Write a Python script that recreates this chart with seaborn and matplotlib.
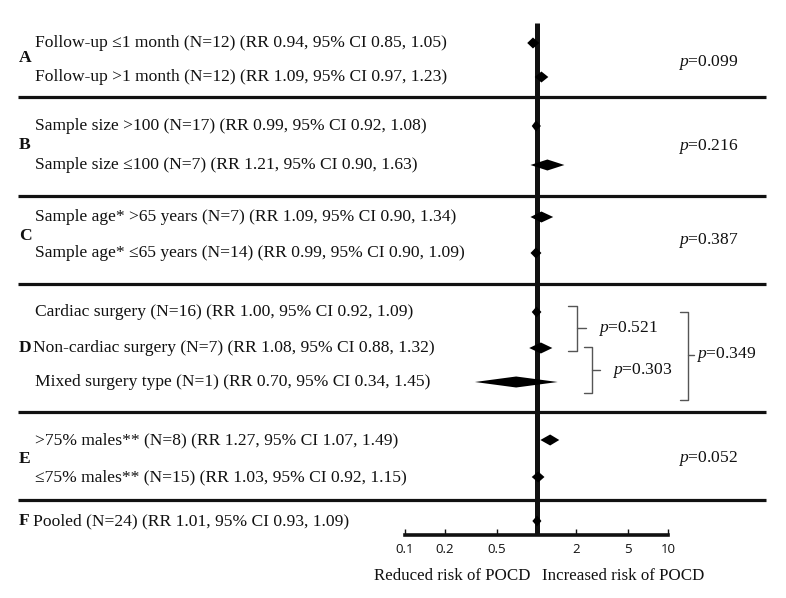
import matplotlib
matplotlib.use("Agg")
import matplotlib.pyplot as plt
import seaborn as sns
import pandas as pd
import numpy as np

# ---- data ----
groups = ["A", "A", "B", "B", "C", "C", "D", "D", "D", "E", "E", "F"]
subgroups = [
    "Follow-up \u22641 month", "Follow-up >1 month",
    "Sample size >100", "Sample size \u2264100",
    "Sample age* >65 years", "Sample age* \u226465 years",
    "Cardiac surgery", "Non-cardiac surgery", "Mixed surgery type",
    ">75% males**", "\u226475% males**",
    "Pooled",
]
n_studies = [12, 12, 17, 7, 7, 14, 16, 7, 1, 8, 15, 24]
rr = [0.94, 1.09, 0.99, 1.21, 1.09, 0.99, 1.00, 1.08, 0.70, 1.27, 1.03, 1.01]
ci_low = [0.85, 0.97, 0.92, 0.90, 0.90, 0.90, 0.92, 0.88, 0.34, 1.07, 0.92, 0.93]
ci_high = [1.05, 1.23, 1.08, 1.63, 1.34, 1.09, 1.09, 1.32, 1.45, 1.49, 1.15, 1.09]
group_letters = ["A", "B", "C", "D", "E", "F"]
group_p = ["0.099", "0.216", "0.387", None, "0.052", None]
d_pairs_p = ["0.521", "0.303", "0.349"]
tick_values = [0.1, 0.2, 0.5, 2, 5, 10]
tick_labels = ["0.1", "0.2", "0.5", "2", "5", "10"]

# ---- layout (pixel rows) ----
W, H = 786, 598
row_y = [43, 77, 126, 165, 217, 253, 312, 348, 382, 440, 477, 521]
sep_y = [97, 196, 284, 412, 500]
letter_y = [58, 145, 236, 348, 459, 521]
p_y = [62, 147, 240, None, 459, None]
axis_y = 535

df = pd.DataFrame({"group": groups, "sub": subgroups, "n": n_studies,
                   "rr": rr, "lo": ci_low, "hi": ci_high, "y": row_y})

sns.set_theme(style="white")
plt.rcParams["font.family"] = ["Liberation Serif", "DejaVu Serif"]
plt.rcParams["mathtext.fontset"] = "custom"
plt.rcParams["mathtext.rm"] = "Liberation Serif"
plt.rcParams["mathtext.it"] = "Liberation Serif:italic"

fig = plt.figure(figsize=(W / 100, H / 100), dpi=100)
fig.patch.set_facecolor("white")

# overlay in pixel coordinates for text, separators, brackets
axp = fig.add_axes([0, 0, 1, 1])
axp.set_xlim(0, W)
axp.set_ylim(H, 0)
axp.axis("off")

# forest axes with log scale
left_px, right_px = 405, 668
ax = fig.add_axes([left_px / W, (H - axis_y) / H, (right_px - left_px) / W, axis_y / H])
ax.patch.set_alpha(0)
ax.set_xscale("log")
ax.set_xlim(0.1, 10)
ax.set_ylim(axis_y, 0)

FS = 12.6
# separators
for s in sep_y:
    axp.plot([18, 766], [s, s], color="#111111", lw=2.3, solid_capstyle="butt")

# row labels
for i, r in df.iterrows():
    x0 = 33 if r["sub"] in ("Non-cardiac surgery", "Pooled") else 35
    txt = f"{r['sub']} (N={r['n']}) (RR {r['rr']:.2f}, 95% CI {r['lo']:.2f}, {r['hi']:.2f})"
    axp.text(x0, r["y"], txt, fontsize=FS, va="center", ha="left", color="#111111")

# group letters
for L, ly in zip(group_letters, letter_y):
    axp.text(19, ly, L, fontsize=FS, fontweight="bold", va="center", ha="left", color="#111111")

# group p-values
for pv, py in zip(group_p, p_y):
    if pv is not None:
        axp.text(678, py, f"$p$={pv}", fontsize=FS, va="center", ha="left", color="#111111")

# D brackets
bc = "#555555"
def bracket(x, y0, y1, hook, nub, ym):
    axp.plot([x - hook, x, x, x - hook], [y0, y0, y1, y1], color=bc, lw=1.0)
    axp.plot([x, x + nub], [ym, ym], color=bc, lw=1.0)

bracket(577, 306, 351, 9, 9, 328)
bracket(592, 347, 393, 8, 8, 370)
bracket(688, 312, 400, 8, 6, 355)
axp.text(598, 328, f"$p$={d_pairs_p[0]}", fontsize=FS, va="center", ha="left", color="#111111")
axp.text(612, 370, f"$p$={d_pairs_p[1]}", fontsize=FS, va="center", ha="left", color="#111111")
axp.text(696, 355, f"$p$={d_pairs_p[2]}", fontsize=FS, va="center", ha="left", color="#111111")

# reference line at RR = 1
ax.plot([1, 1], [23, axis_y], color="#111111", lw=3.6, solid_capstyle="butt", zorder=2)

# diamonds
half_h = 5.5
for _, r in df.iterrows():
    ax.fill([r["lo"], r["rr"], r["hi"], r["rr"]],
            [r["y"], r["y"] - half_h, r["y"], r["y"] + half_h],
            color="black", lw=0, zorder=3)
sns.scatterplot(data=df, x="rr", y="y", ax=ax, color="black", marker="D", s=6,
                linewidth=0, zorder=4, legend=False)

# axis styling
sns.despine(ax=ax, left=True, top=True, right=True, bottom=False)
ax.spines["bottom"].set_linewidth(2.6)
ax.spines["bottom"].set_color("#111111")
ax.set_yticks([])
ax.set_xticks(tick_values)
ax.set_xticklabels(tick_labels, fontfamily=["Open Sans", "DejaVu Sans"], fontsize=9.5)
ax.minorticks_off()
ax.tick_params(axis="x", direction="in", length=4, width=1, color="#111111",
               pad=6, labelcolor="#111111", bottom=True)
ax.set_xlabel("")
ax.set_ylabel("")

axp.text(530, 576, "Reduced risk of POCD", fontsize=12.2, va="center", ha="right", color="#111111")
axp.text(542, 576, "Increased risk of POCD", fontsize=12.2, va="center", ha="left", color="#111111")

fig.savefig("out.png", dpi=100, facecolor="white")
